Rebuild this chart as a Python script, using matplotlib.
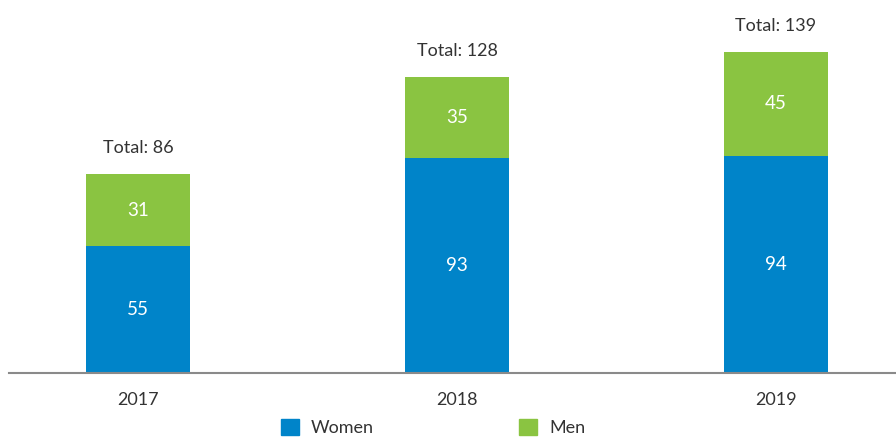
import matplotlib
matplotlib.use("Agg")
import matplotlib.pyplot as plt
from matplotlib.patches import Patch

years = ["2017", "2018", "2019"]
women = [55, 93, 94]
men = [31, 35, 45]
totals = [86, 128, 139]

BLUE = "#0084C9"
GREEN = "#8AC441"
TEXT = "#333333"

plt.rcParams['font.family'] = ['Lato', 'DejaVu Sans']

W, H = 896, 437
fig = plt.figure(figsize=(W / 100, H / 100), dpi=100)
base_px = 373
px_per_unit = 2.31
ytop = 150
ax_h = ytop * px_per_unit
ax = fig.add_axes([9 / W, (H - base_px) / H, 1 - 9 / W, ax_h / H])

x = list(range(len(years)))
bw = 104 / 319
ax.bar(x, women, width=bw, color=BLUE)
ax.bar(x, men, width=bw, bottom=women, color=GREEN)

for i in x:
    ax.text(i, women[i] / 2, str(women[i]), ha='center', va='center', color='white', fontsize=13.5)
    ax.text(i, women[i] + men[i] / 2, str(men[i]), ha='center', va='center', color='white', fontsize=13.5)
    ax.text(i, totals[i] + 26 / px_per_unit, f"Total: {totals[i]}", ha='center', va='center',
            color=TEXT, fontsize=13, clip_on=False)

ax.set_xlim((9 - 138) / 319, (896 - 138) / 319)
ax.set_ylim(0, ytop)
ax.set_xticks(x)
ax.set_xticklabels(years, fontsize=13, color=TEXT)
ax.tick_params(axis='x', length=0, pad=14)
ax.set_yticks([])
for s in ['top', 'right', 'left']:
    ax.spines[s].set_visible(False)
ax.spines['bottom'].set_color('#8a8a8a')
ax.spines['bottom'].set_linewidth(1.5)
ax.set_facecolor('none')

handles = [Patch(color=BLUE, label='Women'), Patch(color=GREEN, label='Men')]
fig.legend(handles=handles, loc='center', bbox_to_anchor=(433 / W, (H - 427.5) / H), ncol=2,
           frameon=False, fontsize=13, handlelength=1.0, handleheight=1.0,
           columnspacing=8.05, handletextpad=0.65, labelcolor=TEXT,
           borderpad=0.0, borderaxespad=0.0)

fig.savefig("out.png", dpi=100)
